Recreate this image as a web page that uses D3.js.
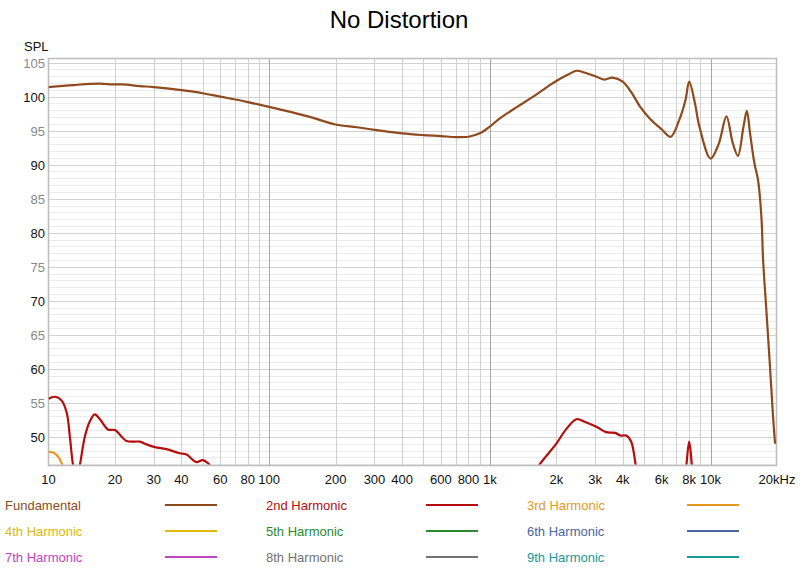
<!DOCTYPE html>
<html>
<head>
<meta charset="utf-8">
<script src="https://cdn.jsdelivr.net/npm/d3@7"></script>
<style>
  body { margin: 0; background: #fff; }
  text { font-family: "Liberation Sans", Arial, sans-serif; }
</style>
</head>
<body>
<div id="chart"></div>
<script>
// values
const fundFreq = [10, 13, 17, 19.6, 21.7, 25.9, 30, 40, 50, 60, 80, 100, 150, 200, 250, 300, 400, 500, 600, 700, 800, 900,
  1000, 1110, 1330, 1570, 1870, 2000, 2250, 2470, 2700, 3000, 3300, 3600, 4000, 4400, 4800, 5300, 6000, 6600, 7200, 7700,
  8000, 8500, 8900, 10000, 10900, 11800, 12600, 13300, 14100, 14600, 15100, 15800, 16400, 17000, 17300, 17900, 18550, 19200, 19600];
const fundSpl = [101.4, 101.7, 101.9, 101.8, 101.8, 101.55, 101.4, 100.95, 100.5, 100.0, 99.2, 98.5, 97.1, 95.9, 95.5, 95.1, 94.6, 94.35, 94.2, 94.05, 94.1, 94.6,
  95.6, 96.8, 98.5, 100.0, 101.7, 102.3, 103.2, 103.8, 103.5, 103.0, 102.5, 102.8, 102.2, 100.5, 98.5, 96.8, 95.2, 94.1, 96.5, 99.5,
  102.2, 99.0, 95.6, 90.9, 93.1, 97.1, 93.2, 91.3, 95.6, 97.9, 94.6, 90.2, 87.8, 82.3, 76.0, 68.6, 60.8, 52.9, 49.0];

const h2Freq = [10, 10.7, 11.5, 12.1, 12.5, 12.9, 13.4, 13.9, 14.6, 15.4, 16.2, 17.1, 18.6, 20, 22.6, 25.9, 27.8, 30.4, 34.2, 39.3, 42.2, 46.8, 50, 53, 56, 60,
  1500, 1650, 2000, 2200, 2470, 2700, 3040, 3360, 3700, 3900, 4150, 4370, 4600, 4800,
  7500, 7750, 8000, 8250, 8500];
const h2Spl = [55.6, 55.9, 55.3, 53.5, 50.0, 46.0, 43.5, 46.0, 50.0, 52.3, 53.3, 52.6, 51.1, 51.0, 49.4, 49.3, 48.9, 48.5, 48.2, 47.6, 47.4, 46.3, 46.6, 46.1, 45.0, 43.0,
  43.0, 45.6, 49.0, 51.0, 52.6, 52.2, 51.5, 50.7, 50.6, 50.2, 50.2, 49.3, 45.5, 43.0,
  42.0, 45.5, 49.3, 45.5, 42.0];

const h3Freq = [10, 10.5, 11, 11.6, 12.2];
const h3Spl = [47.8, 47.7, 47.2, 45.8, 44.0];

const seriesNames = ["Fundamental", "2nd Harmonic", "3rd Harmonic", "4th Harmonic", "5th Harmonic",
  "6th Harmonic", "7th Harmonic", "8th Harmonic", "9th Harmonic"];
const seriesColors = ["#8e4a1c", "#b50d0d", "#e49a20", "#e0b80a", "#2b8a2b", "#4a66a0", "#c243c2", "#727272", "#17999a"];

const xTicks = [10, 20, 30, 40, 60, 80, 100, 200, 300, 400, 600, 800, 1000, 2000, 3000, 4000, 6000, 8000, 10000, 20000];
const xTickLabels = ["10", "20", "30", "40", "60", "80", "100", "200", "300", "400", "600", "800", "1k", "2k", "3k", "4k", "6k", "8k", "10k", "20kHz"];
const yTicks = [50, 55, 60, 65, 70, 75, 80, 85, 90, 95, 100, 105];

const width = 800, height = 575;
const plotL = 48.5, plotR = 776.5, plotT = 58.5, plotB = 465.5;

const svg = d3.select('#chart').append('svg')
  .attr('width', width)
  .attr('height', height);

const x = d3.scaleLog().domain([10, 20000]).range([plotL, plotR + 0.5]);
const y = d3.scaleLinear().domain([45.8, 105.6]).range([plotB, plotT]);

// grid
const grid = svg.append('g').attr('class', 'grid');

const minorY = d3.range(46, 106, 1);
grid.selectAll('.hy')
  .data(minorY)
  .enter()
  .append('line')
  .attr('x1', plotL).attr('x2', plotR)
  .attr('y1', d => Math.round(y(d)) + 0.5)
  .attr('y2', d => Math.round(y(d)) + 0.5)
  .style('stroke', d => d % 5 === 0 ? '#d2d2d2' : '#ececec')
  .style('stroke-width', 1);

let vLines = [];
[10, 100, 1000, 10000].forEach(dec => {
  for (let m = 1; m <= 9; m++) {
    let f = dec * m;
    if (f > 10 && f < 20000) vLines.push(f);
  }
});

grid.selectAll('.vx')
  .data(vLines)
  .enter()
  .append('line')
  .attr('y1', plotT).attr('y2', plotB)
  .attr('x1', d => Math.round(x(d)) + 0.5)
  .attr('x2', d => Math.round(x(d)) + 0.5)
  .style('stroke', d => [100, 1000, 10000].includes(d) ? '#a8a8a8' : '#d0d0d0')
  .style('stroke-width', 1);

svg.append('rect')
  .attr('x', plotL).attr('y', plotT)
  .attr('width', plotR - plotL).attr('height', plotB - plotT)
  .style('fill', 'none')
  .style('stroke', '#bdbdbd')
  .style('stroke-width', 1.5);

// axes labels
svg.append('g')
  .selectAll('text')
  .data(yTicks)
  .enter()
  .append('text')
  .attr('x', 45)
  .attr('y', d => y(d) + 5)
  .attr('text-anchor', 'end')
  .style('font-size', '13px')
  .style('fill', d => d % 10 === 0 ? '#111' : '#888')
  .text(d => d);

svg.append('text')
  .attr('x', 24).attr('y', 51)
  .style('font-size', '13px')
  .style('fill', '#111')
  .text('SPL');

svg.append('g')
  .selectAll('text')
  .data(xTicks)
  .enter()
  .append('text')
  .attr('x', d => x(d))
  .attr('y', 484)
  .attr('text-anchor', 'middle')
  .style('font-size', '13px')
  .style('fill', '#111')
  .text((d, i) => xTickLabels[i]);

svg.append('text')
  .attr('x', 399).attr('y', 28)
  .attr('text-anchor', 'middle')
  .style('font-size', '24px')
  .style('fill', '#000')
  .text('No Distortion');

// curves
svg.append('clipPath').attr('id', 'plot-clip')
  .append('rect')
  .attr('x', plotL).attr('y', plotT)
  .attr('width', plotR - plotL).attr('height', plotB - plotT - 1);

const line = d3.line()
  .x(d => x(d[0]))
  .y(d => y(d[1]))
  .curve(d3.curveCatmullRom.alpha(0.5));

const curves = [
  { freq: fundFreq, spl: fundSpl, color: seriesColors[0] },
  { freq: h2Freq, spl: h2Spl, color: seriesColors[1] },
  { freq: h3Freq, spl: h3Spl, color: seriesColors[2] }
];

const plot = svg.append('g').attr('clip-path', 'url(#plot-clip)');

curves.slice().reverse().forEach(c => {
  plot.append('path')
    .datum(c.freq.map((f, i) => [f, c.spl[i]]))
    .attr('d', line)
    .style('fill', 'none')
    .style('stroke', c.color)
    .style('stroke-width', 2.2)
    .style('stroke-linejoin', 'round');
});

// legend
const colX = [5, 266, 527];
const lineX = [165, 426, 687];
const rowY = [505, 531, 557];

const legend = svg.append('g').attr('class', 'legend');

seriesNames.forEach((name, i) => {
  let col = i % 3, row = Math.floor(i / 3);
  legend.append('text')
    .attr('x', colX[col])
    .attr('y', rowY[row] + 4.5)
    .style('font-size', '13px')
    .style('fill', seriesColors[i])
    .text(name);
  legend.append('line')
    .attr('x1', lineX[col]).attr('x2', lineX[col] + 52)
    .attr('y1', rowY[row]).attr('y2', rowY[row])
    .style('stroke', seriesColors[i])
    .style('stroke-width', 2);
});
</script>
</body>
</html>
